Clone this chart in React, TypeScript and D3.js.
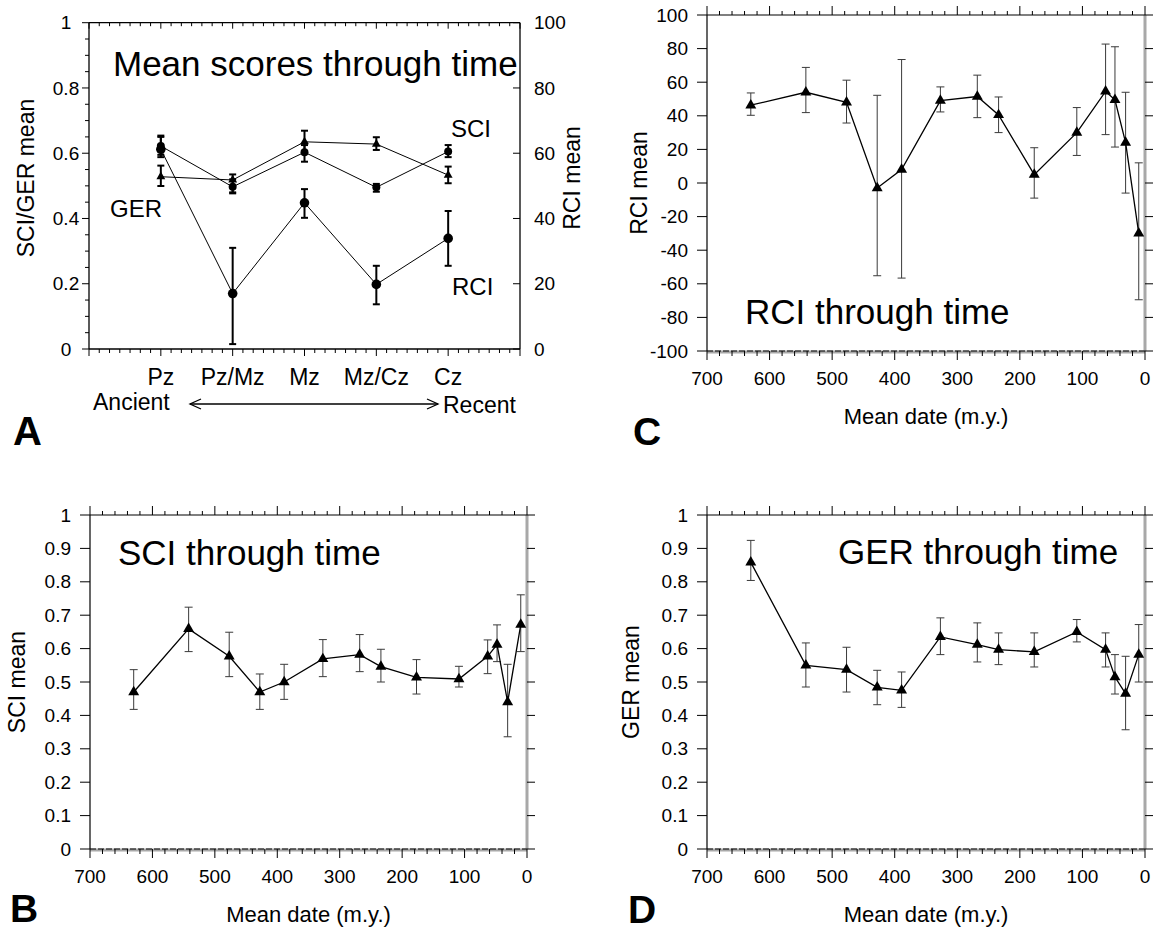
import React from "react";
import * as d3 from "d3";

const FONT = '"Liberation Sans", Arial, Helvetica, sans-serif';

// ---------- Panel A: era means ----------
const eraCategories = ["Pz", "Pz/Mz", "Mz", "Mz/Cz", "Cz"];
const sciEraMean = [0.622, 0.497, 0.603, 0.4955, 0.605];
const sciEraLow = [0.595, 0.477, 0.574, 0.482, 0.588];
const sciEraHigh = [0.654, 0.52, 0.625, 0.506, 0.625];
const gerEraMean = [0.528, 0.518, 0.635, 0.628, 0.533];
const gerEraLow = [0.4995, 0.48, 0.6, 0.61, 0.508];
const gerEraHigh = [0.562, 0.535, 0.669, 0.649, 0.559];
const rciEraMean = [61.2, 17, 44.8, 19.8, 33.9];
const rciEraLow = [58.8, 1.5, 40.2, 13.7, 25.5];
const rciEraHigh = [65, 31, 49, 25.5, 42.3];
const leftTicksA = [0, 0.2, 0.4, 0.6, 0.8, 1];
const leftTickLabelsA = ["0", "0.2", "0.4", "0.6", "0.8", "1"];
const rightTicksA = [0, 20, 40, 60, 80, 100];

// ---------- Panels B, C, D: through time ----------
const meanDates = [630, 542, 477, 428, 389, 327, 268, 234, 177, 109, 63, 48, 31, 10];
const rciMean = [46.3, 54, 48, -3, 8, 49, 51.5, 40.5, 5, 30, 54.5, 49.5, 24, -30];
const rciLow = [40.3, 41.9, 35.7, -55.2, -56.6, 42.3, 38.9, 30, -9, 16.4, 28.8, 21.4, -6, -69.5];
const rciHigh = [53.6, 68.8, 61.2, 52.2, 73.5, 57.2, 64.2, 51.2, 21, 44.9, 82.7, 81.1, 54, 12];
const sciMean = [0.47, 0.659, 0.577, 0.47, 0.5, 0.569, 0.582, 0.546, 0.514, 0.509, 0.577, 0.612, 0.44, 0.672];
const sciLow = [0.418, 0.591, 0.516, 0.418, 0.448, 0.516, 0.531, 0.5, 0.464, 0.485, 0.525, 0.561, 0.336, 0.591];
const sciHigh = [0.537, 0.724, 0.649, 0.524, 0.553, 0.627, 0.642, 0.598, 0.567, 0.547, 0.626, 0.671, 0.553, 0.761];
const gerMean = [0.858, 0.55, 0.537, 0.484, 0.475, 0.635, 0.612, 0.597, 0.59, 0.65, 0.597, 0.515, 0.465, 0.582];
const gerLow = [0.804, 0.485, 0.47, 0.432, 0.424, 0.582, 0.56, 0.552, 0.545, 0.62, 0.545, 0.464, 0.357, 0.5];
const gerHigh = [0.924, 0.617, 0.604, 0.535, 0.53, 0.692, 0.677, 0.647, 0.647, 0.687, 0.647, 0.582, 0.577, 0.672];
const dateTicks = [700, 600, 500, 400, 300, 200, 100, 0];
const rciTicks = [-100, -80, -60, -40, -20, 0, 20, 40, 60, 80, 100];
const unitTicks = [0, 0.1, 0.2, 0.3, 0.4, 0.5, 0.6, 0.7, 0.8, 0.9, 1];
const unitTickLabels = ["0", "0.1", "0.2", "0.3", "0.4", "0.5", "0.6", "0.7", "0.8", "0.9", "1"];

const triSmall = d3.symbol().type(d3.symbolTriangle).size(34)() as string;
const triBig = d3.symbol().type(d3.symbolTriangle).size(52)() as string;

function PanelA() {
  const x0 = 89, x1 = 520, yTop = 22.7, yBot = 349;
  const x = d3.scaleLinear().domain([0, 6]).range([x0, x1]);
  const y = d3.scaleLinear().domain([0, 1]).range([yBot, yTop]);
  const yR = d3.scaleLinear().domain([0, 100]).range([yBot, yTop]);
  const minorX = d3.range(0, 43).map((i) => i / 7);
  const minorY = d3.range(0, 21).map((i) => i * 0.05);
  const lineL = d3.line<number>().x((_, i) => x(i + 1)).y((d) => y(d));
  const lineR = d3.line<number>().x((_, i) => x(i + 1)).y((d) => yR(d));
  const err = (cx: number, ylo: number, yhi: number, key: string) => (
    <g key={key} stroke="#000" strokeWidth={2}>
      <line x1={cx} x2={cx} y1={ylo} y2={yhi} />
      <line x1={cx - 3.5} x2={cx + 3.5} y1={ylo} y2={ylo} />
      <line x1={cx - 3.5} x2={cx + 3.5} y1={yhi} y2={yhi} />
    </g>
  );
  return (
    <g fontFamily={FONT}>
      <g stroke="#000" strokeWidth={1.3} fill="none">
        <line x1={x0} x2={x0} y1={yTop} y2={yBot} />
        <line x1={x1} x2={x1} y1={yTop} y2={yBot} />
        <line x1={x0} x2={x1} y1={yTop} y2={yTop} />
        <line x1={x0} x2={x1} y1={yBot} y2={yBot} />
      </g>
      <g stroke="#000" strokeWidth={1}>
        {minorX.map((v, i) => (
          <line key={"bx" + i} x1={x(v)} x2={x(v)} y1={yBot} y2={yBot + (i % 7 === 0 ? 7 : 4)} />
        ))}
        {minorX.map((v, i) => (
          <line key={"tx" + i} x1={x(v)} x2={x(v)} y1={yTop} y2={yTop + (i % 7 === 0 ? 6 : 3.5)} />
        ))}
        {minorY.map((v, i) => (
          <line key={"ly" + i} x1={x0} x2={x0 - (i % 4 === 0 ? 7 : 4)} y1={y(v)} y2={y(v)} />
        ))}
        {rightTicksA.map((v) => (
          <line key={"ry" + v} x1={x1} x2={x1 - 7} y1={yR(v)} y2={yR(v)} />
        ))}
      </g>
      {leftTicksA.map((v, i) => (
        <text key={"ll" + v} x={66} y={y(v)} dy="0.35em" fontSize={19} textAnchor="middle">
          {leftTickLabelsA[i]}
        </text>
      ))}
      {rightTicksA.map((v) => (
        <text key={"rl" + v} x={534} y={yR(v)} dy="0.35em" fontSize={19} textAnchor="start">
          {v}
        </text>
      ))}
      {eraCategories.map((c, i) => (
        <text key={c} x={x(i + 1)} y={385} fontSize={23} textAnchor="middle">
          {c}
        </text>
      ))}
      <text x={93} y={410} fontSize={23}>Ancient</text>
      <text x={443} y={413} fontSize={23}>Recent</text>
      <g stroke="#000" strokeWidth={1.3} fill="none">
        <line x1={190} x2={438} y1={404} y2={404} />
        <polyline points="201,399 190,404 201,409" />
        <polyline points="427,399 438,404 427,409" />
      </g>
      <text transform="translate(34,178) rotate(-90)" fontSize={23} textAnchor="middle">
        SCI/GER mean
      </text>
      <text transform="translate(580,178) rotate(-90)" fontSize={23} textAnchor="middle">
        RCI mean
      </text>
      <text x={113} y={76} fontSize={35}>Mean scores through time</text>
      <text x={451} y={137} fontSize={24}>SCI</text>
      <text x={110} y={217} fontSize={24}>GER</text>
      <text x={452} y={295} fontSize={24}>RCI</text>
      <g fill="none" stroke="#000" strokeWidth={1}>
        <path d={lineL(gerEraMean) as string} />
        <path d={lineL(sciEraMean) as string} />
        <path d={lineR(rciEraMean) as string} />
      </g>
      {gerEraMean.map((_, i) => err(x(i + 1), y(gerEraLow[i]), y(gerEraHigh[i]), "ge" + i))}
      {sciEraMean.map((_, i) => err(x(i + 1), y(sciEraLow[i]), y(sciEraHigh[i]), "se" + i))}
      {rciEraMean.map((_, i) => err(x(i + 1), yR(rciEraLow[i]), yR(rciEraHigh[i]), "re" + i))}
      {gerEraMean.map((v, i) => (
        <path key={"gm" + i} d={triSmall} transform={`translate(${x(i + 1)},${y(v)})`} fill="#000" />
      ))}
      {sciEraMean.map((v, i) => (
        <circle key={"sm" + i} cx={x(i + 1)} cy={y(v)} r={4} fill="#000" />
      ))}
      {rciEraMean.map((v, i) => (
        <circle key={"rm" + i} cx={x(i + 1)} cy={yR(v)} r={4.8} fill="#000" />
      ))}
      <text x={13} y={445} fontSize={40} fontWeight="bold">A</text>
    </g>
  );
}

type TPProps = {
  x0: number; x1: number; yTop: number; yBot: number;
  domain: [number, number];
  ticks: number[]; tickLabels: string[];
  means: number[]; lows: number[]; highs: number[];
  yTitle: string; yTitleX: number;
  title: string; titleX: number; titleY: number;
  letter: string; letterX: number; letterY: number;
};

function TimePanel(p: TPProps) {
  const x = d3.scaleLinear().domain([700, 0]).range([p.x0, p.x1]);
  const y = d3.scaleLinear().domain(p.domain).range([p.yBot, p.yTop]);
  const minor = d3.range(0, 36).map((i) => i * 20);
  const line = d3.line<number>().x((_, i) => x(meanDates[i])).y((d) => y(d));
  const cy = (p.yTop + p.yBot) / 2;
  return (
    <g fontFamily={FONT}>
      <g stroke="#a8a8a8" strokeWidth={3} fill="none">
        <line x1={p.x1} x2={p.x1} y1={p.yTop} y2={p.yBot} />
        <line x1={p.x0} x2={p.x1} y1={p.yBot + 1} y2={p.yBot + 1} />
      </g>
      <g stroke="#000" strokeWidth={1.2} fill="none">
        <line x1={p.x0} x2={p.x0} y1={p.yTop} y2={p.yBot} />
        <line x1={p.x0} x2={p.x1} y1={p.yTop} y2={p.yTop} />
        <line x1={p.x0} x2={p.x1} y1={p.yBot} y2={p.yBot} strokeDasharray="6 2" />
      </g>
      <g stroke="#000" strokeWidth={1}>
        {minor.map((v) => (
          <line key={"b" + v} x1={x(v)} x2={x(v)} y1={p.yBot} y2={p.yBot + (v % 100 === 0 ? 9 : 5)} />
        ))}
        {minor.map((v) => (
          <line key={"t" + v} x1={x(v)} x2={x(v)} y1={p.yTop} y2={p.yTop - (v % 100 === 0 ? 9 : 4)} />
        ))}
        {p.ticks.map((v) => (
          <line key={"l" + v} x1={p.x0} x2={p.x0 - 10} y1={y(v)} y2={y(v)} />
        ))}
        {p.ticks.map((v) => (
          <line key={"r" + v} x1={p.x1} x2={p.x1 + 8} y1={y(v)} y2={y(v)} />
        ))}
      </g>
      {p.ticks.map((v, i) => (
        <text key={"tl" + v} x={p.x0 - 19} y={y(v)} dy="0.35em" fontSize={19} textAnchor="end">
          {p.tickLabels[i]}
        </text>
      ))}
      {dateTicks.map((v) => (
        <text key={"dl" + v} x={x(v)} y={p.yBot + 34} fontSize={19} textAnchor="middle">
          {v}
        </text>
      ))}
      <text x={(p.x0 + p.x1) / 2} y={p.yBot + 73} fontSize={22} textAnchor="middle">
        Mean date (m.y.)
      </text>
      <text transform={`translate(${p.yTitleX},${cy}) rotate(-90)`} fontSize={23} textAnchor="middle">
        {p.yTitle}
      </text>
      <text x={p.titleX} y={p.titleY} fontSize={35}>{p.title}</text>
      <g stroke="#3a3a3a" strokeWidth={1}>
        {p.means.map((_, i) => {
          const cx = x(meanDates[i]);
          return (
            <g key={"e" + i}>
              <line x1={cx} x2={cx} y1={y(p.lows[i])} y2={y(p.highs[i])} />
              <line x1={cx - 4} x2={cx + 4} y1={y(p.lows[i])} y2={y(p.lows[i])} />
              <line x1={cx - 4} x2={cx + 4} y1={y(p.highs[i])} y2={y(p.highs[i])} />
            </g>
          );
        })}
      </g>
      <path d={line(p.means) as string} fill="none" stroke="#000" strokeWidth={1.3} />
      {p.means.map((v, i) => (
        <path key={"m" + i} d={triBig} transform={`translate(${x(meanDates[i])},${y(v)})`} fill="#000" />
      ))}
      <text x={p.letterX} y={p.letterY} fontSize={39} fontWeight="bold">{p.letter}</text>
    </g>
  );
}

export default function App() {
  const rciLabels = rciTicks.map((v) => String(v));
  return (
    <svg
      width={1154}
      height={933}
      viewBox="0 0 1154 933"
      style={{ position: "absolute", left: 0, top: 0, background: "#fff" }}
    >
      <rect x={0} y={0} width={1154} height={933} fill="#fff" />
      <PanelA />
      <TimePanel
        x0={707} x1={1145} yTop={15} yBot={351}
        domain={[-100, 100]} ticks={rciTicks} tickLabels={rciLabels}
        means={rciMean} lows={rciLow} highs={rciHigh}
        yTitle="RCI mean" yTitleX={647}
        title="RCI through time" titleX={745} titleY={324}
        letter="C" letterX={633} letterY={445}
      />
      <TimePanel
        x0={90} x1={527} yTop={515} yBot={849}
        domain={[0, 1]} ticks={unitTicks} tickLabels={unitTickLabels}
        means={sciMean} lows={sciLow} highs={sciHigh}
        yTitle="SCI mean" yTitleX={25}
        title="SCI through time" titleX={118} titleY={565}
        letter="B" letterX={10} letterY={922}
      />
      <TimePanel
        x0={707} x1={1145} yTop={515} yBot={849}
        domain={[0, 1]} ticks={unitTicks} tickLabels={unitTickLabels}
        means={gerMean} lows={gerLow} highs={gerHigh}
        yTitle="GER mean" yTitleX={639}
        title="GER through time" titleX={838} titleY={564}
        letter="D" letterX={628} letterY={923}
      />
    </svg>
  );
}
